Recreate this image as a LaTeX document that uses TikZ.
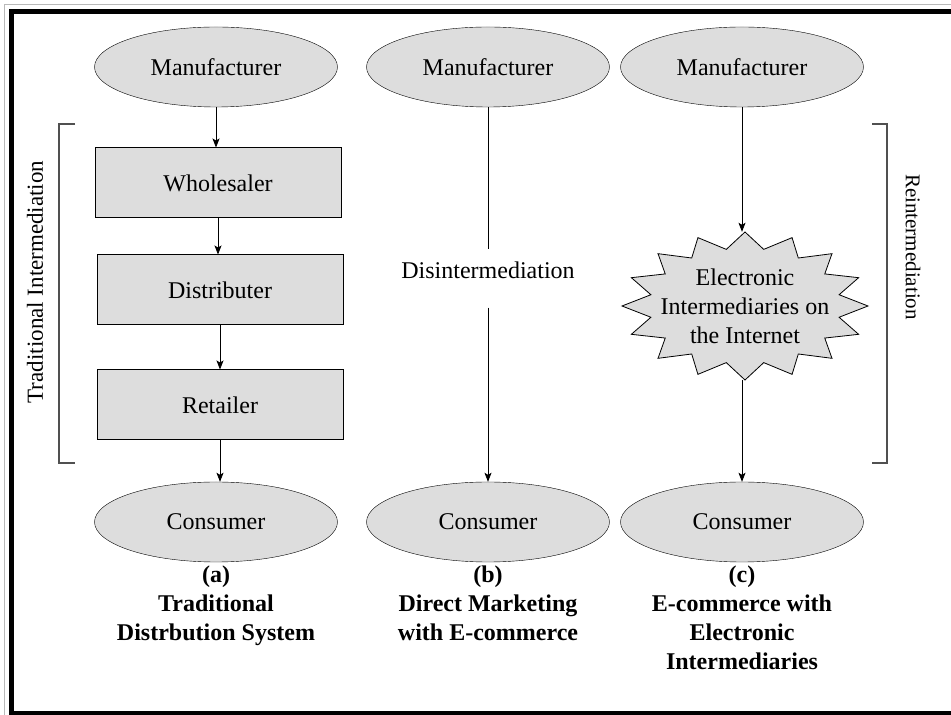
\documentclass[tikz,border=0pt]{standalone}
\usepackage{fontspec}
\setmainfont{Liberation Serif}
\usetikzlibrary{shapes.geometric,arrows.meta,positioning}
\definecolor{boxgray}{RGB}{221,221,221}
\definecolor{brkgray}{RGB}{80,80,80}

\begin{document}
\begin{tikzpicture}[x=1pt, y=1pt,
    party/.style={ellipse, draw=black, fill=boxgray, minimum width=243pt, minimum height=80pt, inner sep=0pt, font=\fontsize{24}{29}\selectfont},
    mid/.style={rectangle, draw=black, line width=1pt, fill=boxgray, minimum width=246pt, minimum height=70pt, inner sep=0pt, font=\fontsize{24}{29}\selectfont},
    lbl/.style={font=\fontsize{24}{29}\selectfont},
    captext/.style={font=\fontsize{24}{29}\selectfont\bfseries, align=center, anchor=north, inner sep=0pt},
    brk/.style={draw=brkgray, line width=1.5pt},
    flow/.style={->, line width=0.8pt},
    >={Stealth[length=9pt, width=7pt, inset=2pt]}
]
\useasboundingbox (0,0) rectangle (951,715);

% frame
\draw[gray!55, line width=1pt] (4.5,0) -- (4.5,710.5) -- (951,710.5);
\draw[line width=5pt] (951,1.5) -- (11.5,1.5) -- (11.5,703.5) -- (951,703.5);

% end points of the three chains
\foreach \i/\x in {A/216, B/488, C/742} {
    \node[party] (man\i) at (\x, 648) {Manufacturer};
    \node[party] (con\i) at (\x, 193) {Consumer};
}

% (a) traditional chain
\node[mid] (whole) at (218, 532) {Wholesaler};
\node[mid] (distr) at (220, 425) {Distributer};
\node[mid] (retail) at (220, 310) {Retailer};
\draw[flow] (manA) -- (manA |- whole.north);
\draw[flow] (whole) -- (whole |- distr.north);
\draw[flow] (distr) -- (distr |- retail.north);
\draw[flow] (retail) -- (retail |- conA.north);

% (b) direct
\node[lbl, inner ysep=12pt] (dis) at (488, 445) {Disintermediation};
\draw[line width=0.8pt] (manB) -- (dis.north);
\draw[flow] ([yshift=-17pt]dis.south) -- (conB);

% (c) electronic intermediaries
\coordinate (ec) at (745, 409);
\draw[fill=boxgray, line width=0.8pt, shift={(ec)}] (123,0)
    \foreach \k in {1,...,31} { -- ({123*(1-0.22*mod(\k,2))*cos(\k*11.25)}, {74*(1-0.22*mod(\k,2))*sin(\k*11.25)}) } -- cycle;
\node[ellipse, minimum width=246pt, minimum height=148pt, inner sep=0pt, align=center, lbl] (ei) at (ec) {Electronic\\Intermediaries on\\the Internet};
\draw[flow] (manC) -- (manC |- ei.north);
\draw[flow] (manC |- ei.south) -- (conC);

% brackets
\draw[brk] (75,591) -- (59,591) -- (59,252) -- (75,252);
\node[lbl, font=\fontsize{23}{28}\selectfont, rotate=90] (tradlbl) at (35, 433) {Traditional Intermediation};
\draw[brk] (872,591) -- (887,591) -- (887,252) -- (872,252);
\node[lbl, font=\fontsize{21}{25}\selectfont, rotate=-90] (relbl) at (913, 468) {Reintermediation};

% captions
\node[captext] (capA) at (216, 149) {(a)\\Traditional\\Distrbution System};
\node[captext] (capB) at (488, 149) {(b)\\Direct Marketing\\with E-commerce};
\node[captext] (capC) at (742, 149) {(c)\\E-commerce with\\Electronic\\Intermediaries};
\end{tikzpicture}
\end{document}
